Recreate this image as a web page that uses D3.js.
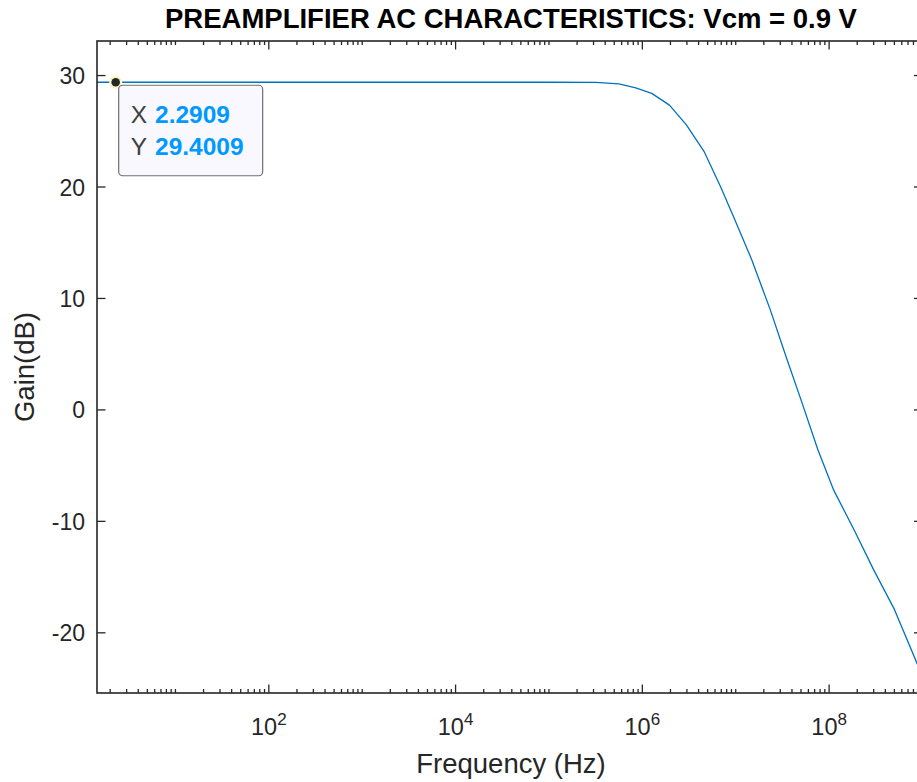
<!DOCTYPE html>
<html>
<head>
<meta charset="utf-8">
<script src="https://cdn.jsdelivr.net/npm/d3@7/dist/d3.min.js"></script>
<style>
  html, body { margin: 0; padding: 0; background: #fff; overflow: hidden; }
  svg { display: block; }
  text { font-family: "Liberation Sans", Arial, Helvetica, sans-serif; }
</style>
</head>
<body>
<svg id="chart" width="917" height="782"></svg>
<script>
// Preamplifier AC sweep: frequency (Hz) and gain (dB)
const freqHz = [1.4454, 2.2909, 10, 100, 1e3, 1e4, 1e5, 3.16e5, 5.6e5, 8.5e5,
  1.26e6, 1.95e6, 2.95e6, 4.57e6, 6.9e6, 9.5e6, 1.48e7, 2.34e7, 3.55e7, 5.0e7,
  7.6e7, 1.12e8, 1.86e8, 3.0e8, 5.0e8, 8.9e8, 1e9];
const gainDb = [29.4009, 29.4009, 29.4009, 29.4009, 29.4009, 29.4008, 29.399, 29.38, 29.25, 28.9,
  28.4, 27.35, 25.6, 23.2, 20.0, 17.3, 13.5, 9.0, 4.5, 0.9,
  -3.6, -7.2, -10.8, -14.35, -17.9, -22.9, -23.8];

// Axis settings
const xDomain = [1.4454, 1e9];
const yDomain = [-25.4, 33.1];
const xMajorExp = [2, 4, 6, 8];
const yTicks = [-20, -10, 0, 10, 20, 30];

// Data tip
const tipX = 2.2909;
const tipY = 29.4009;

const titleText = "PREAMPLIFIER AC CHARACTERISTICS: Vcm = 0.9 V";
const xLabelText = "Frequency (Hz)";
const yLabelText = "Gain(dB)";

const box = { left: 97, right: 922.5, top: 41, bottom: 693 };
const svg = d3.select("#chart");

const x = d3.scaleLog().domain(xDomain).range([box.left, box.right]);
const y = d3.scaleLinear().domain(yDomain).range([box.bottom, box.top]);

const axisColor = "#262626";
const majorLen = 8.5, minorLen = 4;

// Curve (clipped to the axes box)
svg.append("clipPath").attr("id", "plotClip")
  .append("rect")
  .attr("x", box.left).attr("y", box.top)
  .attr("width", box.right - box.left).attr("height", box.bottom - box.top);

const pts = freqHz.map((f, i) => [f, gainDb[i]]);
svg.append("path")
  .datum(pts)
  .attr("clip-path", "url(#plotClip)")
  .attr("fill", "none")
  .attr("stroke", "#0072BD")
  .attr("stroke-width", 1.3)
  .attr("stroke-linejoin", "round")
  .attr("d", d3.line().x(d => x(d[0])).y(d => y(d[1])));

// Log ticks: majors at even decades, minors at every n*10^k
const minorVals = [];
for (let k = 0; k <= 8; k++) {
  for (let n = 1; n <= 9; n++) {
    const v = n * Math.pow(10, k);
    if (v < xDomain[0] || v > xDomain[1]) continue;
    if (n === 1 && k % 2 === 0) continue;
    minorVals.push(v);
  }
}
const majorVals = xMajorExp.map(e => Math.pow(10, e));

const tickG = svg.append("g").attr("stroke", axisColor).attr("stroke-width", 1.3);
minorVals.forEach(v => {
  const px = x(v);
  tickG.append("line").attr("x1", px).attr("x2", px).attr("y1", box.bottom).attr("y2", box.bottom - minorLen);
  tickG.append("line").attr("x1", px).attr("x2", px).attr("y1", box.top).attr("y2", box.top + minorLen);
});
majorVals.forEach(v => {
  const px = x(v);
  tickG.append("line").attr("x1", px).attr("x2", px).attr("y1", box.bottom).attr("y2", box.bottom - majorLen);
  tickG.append("line").attr("x1", px).attr("x2", px).attr("y1", box.top).attr("y2", box.top + majorLen);
});
yTicks.forEach(v => {
  const py = y(v);
  tickG.append("line").attr("x1", box.left).attr("x2", box.left + majorLen).attr("y1", py).attr("y2", py);
  tickG.append("line").attr("x1", box.right).attr("x2", box.right - majorLen).attr("y1", py).attr("y2", py);
});

// Axes box
svg.append("rect")
  .attr("x", box.left).attr("y", box.top)
  .attr("width", box.right - box.left).attr("height", box.bottom - box.top)
  .attr("fill", "none").attr("stroke", axisColor).attr("stroke-width", 1.6);

// X tick labels 10^n
xMajorExp.forEach(e => {
  const t = svg.append("text")
    .attr("x", x(Math.pow(10, e)))
    .attr("y", 735)
    .attr("text-anchor", "middle")
    .attr("fill", axisColor)
    .attr("font-size", 23.5);
  t.append("tspan").text("10");
  t.append("tspan").attr("font-size", 17).attr("dy", -10).text(String(e));
});

// Y tick labels
yTicks.forEach(v => {
  svg.append("text")
    .attr("x", 85)
    .attr("y", y(v) + 8.5)
    .attr("text-anchor", "end")
    .attr("fill", axisColor)
    .attr("font-size", 23)
    .text(String(v));
});

// Title and axis labels
svg.append("text")
  .attr("x", 511)
  .attr("y", 28)
  .attr("text-anchor", "middle")
  .attr("font-weight", "bold")
  .attr("font-size", 27.5)
  .attr("fill", "#000")
  .text(titleText);

svg.append("text")
  .attr("x", 511)
  .attr("y", 773)
  .attr("text-anchor", "middle")
  .attr("font-size", 27.5)
  .attr("fill", axisColor)
  .text(xLabelText);

svg.append("text")
  .attr("transform", `translate(34, ${(box.top + box.bottom) / 2}) rotate(-90)`)
  .attr("text-anchor", "middle")
  .attr("font-size", 27.5)
  .attr("fill", axisColor)
  .text(yLabelText);

// Data tip marker and label box
const tx = x(tipX), ty = y(tipY);
svg.append("circle").attr("cx", tx).attr("cy", ty).attr("r", 6.5).attr("fill", "#fbf6c4");
svg.append("circle").attr("cx", tx).attr("cy", ty).attr("r", 4.3).attr("fill", "#262626");

const tipG = svg.append("g");
tipG.append("rect")
  .attr("x", tx + 3).attr("y", ty + 3)
  .attr("width", 144).attr("height", 90.5)
  .attr("rx", 4).attr("ry", 4)
  .attr("fill", "#f8f8fe")
  .attr("stroke", "#707070")
  .attr("stroke-width", 1.2);

const tipRows = [["X", tipX.toFixed(4)], ["Y", tipY.toFixed(4)]];
tipRows.forEach((r, i) => {
  const t = tipG.append("text")
    .attr("x", tx + 15)
    .attr("y", ty + 41 + i * 32)
    .attr("font-size", 24.5);
  t.append("tspan").attr("fill", "#404040").text(r[0]);
  t.append("tspan").attr("fill", "#0099FF").attr("font-weight", "bold").attr("dx", 8).text(r[1]);
});
</script>
</body>
</html>
